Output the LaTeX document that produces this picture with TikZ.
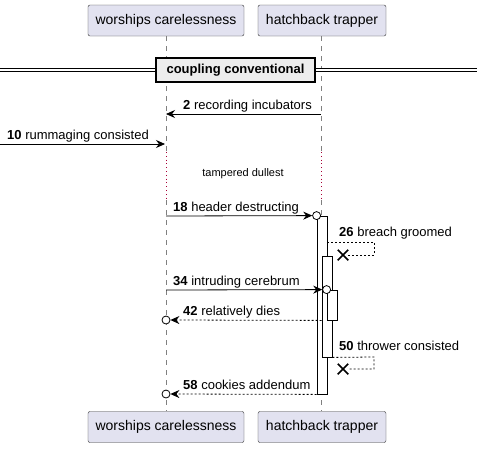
\documentclass[tikz,border=0pt]{standalone}
\usepackage{fontspec}
\setmainfont{Liberation Sans}
\usetikzlibrary{arrows.meta,positioning,shapes.misc}
\definecolor{partfill}{RGB}{226,226,240}
\definecolor{delaycol}{RGB}{168,0,54}

\begin{document}
\begin{tikzpicture}[x=1pt, y=-1pt,
    part/.style = {draw=black!80, fill=partfill, rounded corners=2pt, minimum height=31pt, font=\fontsize{14}{16}\selectfont},
    life/.style = {draw=gray, dash pattern=on 5pt off 5pt, line width=0.6pt},
    delay/.style = {draw=delaycol, dash pattern=on 0.8pt off 3pt, line width=0.8pt},
    msg/.style = {-{Stealth[length=9pt, width=8pt, inset=3pt]}, line width=0.8pt},
    ret/.style = {msg, dash pattern=on 2pt off 2pt},
    selfm/.style = {line width=0.8pt, dash pattern=on 2pt off 2pt},
    lbl/.style = {inner sep=0pt, anchor=base west, font=\fontsize{13}{15}\selectfont},
    bar/.style = {draw, fill=white, line width=0.8pt, inner sep=0pt, minimum width=10pt},
    dot/.style = {draw, circle, fill=white, inner sep=0pt, minimum size=8pt, line width=0.8pt},
    kill/.style = {draw, cross out, inner sep=0pt, minimum size=9pt, line width=1.5pt}]
  \useasboundingbox (0,0) rectangle (477,448);

  % participants
  \node[part, minimum width=156pt] (wcTop) at (166,20.5) {worships carelessness};
  \node[part, minimum width=128pt] (htTop) at (322,20.5) {hatchback trapper};
  \node[part, minimum width=156pt] (wcBot) at (166,427) {worships carelessness};
  \node[part, minimum width=128pt] (htBot) at (322,427) {hatchback trapper};

  % lifelines, dotted during the delay
  \coordinate (wcD1) at (166,152); \coordinate (wcD2) at (166,200);
  \coordinate (htD1) at (321,152); \coordinate (htD2) at (321,200);
  \draw[life] (wcTop.south -| wcD1) -- (wcD1);
  \draw[delay] (wcD1) -- (wcD2);
  \draw[life] (wcD2) -- (wcBot.north -| wcD2);
  \draw[life] (htTop.south -| htD1) -- (htD1);
  \draw[delay] (htD1) -- (htD2);
  \draw[life] (htD2) -- (htBot.north -| htD2);

  % divider
  \draw[double, double distance=2.6pt, line width=0.8pt] (0,70) -- (477,70);
  \node[draw, fill=black!7, line width=1.5pt, minimum width=159pt, minimum height=24pt,
        font=\bfseries\fontsize{13}{15}\selectfont] (divide) at (235.5,70) {coupling conventional};

  % messages before the delay
  \coordinate (m2a) at (321,114); \coordinate (m2b) at (166,114);
  \draw[msg] (m2a) -- (m2b);
  \node[lbl] (l2) at (183,109) {\textbf{2} recording incubators};
  \coordinate (m10a) at (0,144); \coordinate (m10b) at (165,144);
  \draw[msg] (m10a) -- (m10b);
  \node[lbl] (l10) at (7,139) {\textbf{10} rummaging consisted};
  \node[font=\fontsize{11}{13}\selectfont] (wait) at (243,174) {tampered dullest};

  % activations
  \node[bar, minimum height=178pt] (act1) at (322,305) {};
  \node[bar, minimum height=101pt] (act2) at (327,306.5) {};
  \node[bar, minimum height=30pt] (act3) at (332,305) {};

  % calls
  \node[dot] (o18) at (act1.north west) {};
  \coordinate (m18) at (166,216);
  \draw[msg] (m18) -- (o18.west);
  \node[lbl] (l18) at (173,211) {\textbf{18} header destructing};

  \node[dot] (o34) at (act3.north west) {};
  \coordinate (m34) at (166,290);
  \draw[msg] (m34) -- (o34.west);
  \node[lbl] (l34) at (173,285) {\textbf{34} intruding cerebrum};

  % self messages ending in a cross
  \node[kill] (x26) at (343,255) {};
  \draw[selfm] (act1.east |- 0,242) -- (374,242) -- (374,255) -- (x26.east);
  \node[lbl] (l26) at (339,236) {\textbf{26} breach groomed};

  \node[kill] (x50) at (343,369) {};
  \draw[selfm] (act2.south east) -- (374,357) -- (374,369) -- (x50.east);
  \node[lbl] (l50) at (339,350) {\textbf{50} thrower consisted};

  % returns
  \node[dot] (o42) at (166,320) {};
  \draw[ret] (act2.west |- act3.south) -- (o42.east);
  \node[lbl] (l42) at (183,315) {\textbf{42} relatively dies};

  \node[dot] (o58) at (166,394) {};
  \draw[ret] (act1.south west) -- (o58.east);
  \node[lbl] (l58) at (183,389) {\textbf{58} cookies addendum};
\end{tikzpicture}
\end{document}
